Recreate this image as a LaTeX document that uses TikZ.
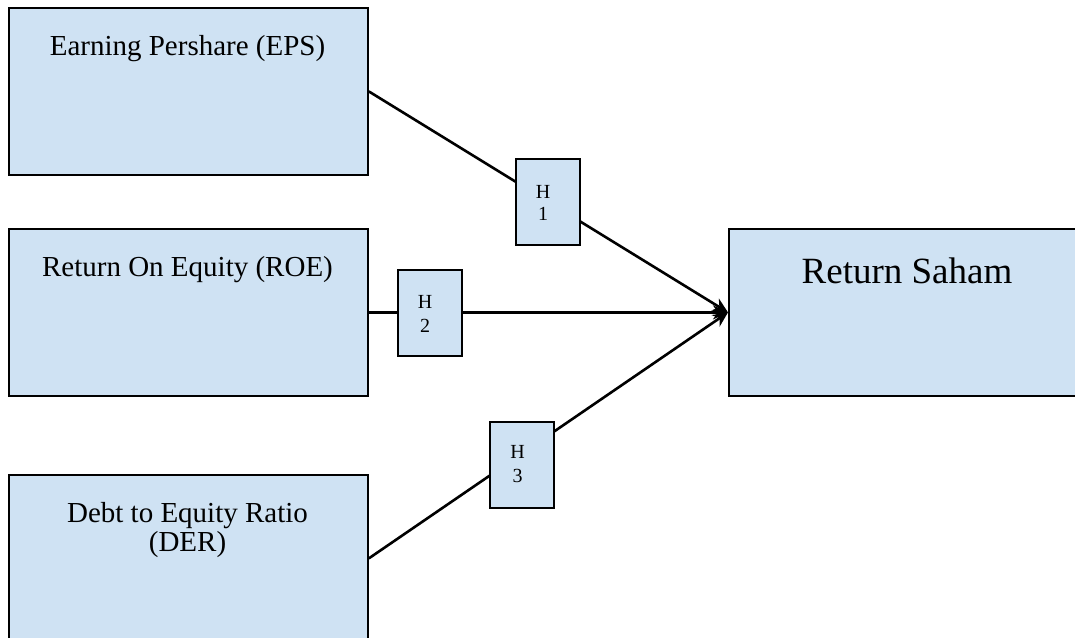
\documentclass[tikz,border=0pt]{standalone}
\usepackage{fontspec}
\setmainfont{Liberation Serif}
\usetikzlibrary{arrows.meta}
\definecolor{boxblue}{RGB}{207,226,243}
\begin{document}
\begin{tikzpicture}[x=1pt,y=-1pt,
  bigbox/.style={draw=black, line width=1.8pt, fill=boxblue, inner sep=0pt, anchor=north west, minimum width=359pt, minimum height=167pt},
  hbox/.style={draw=black, line width=1.8pt, fill=boxblue, inner sep=0pt, anchor=north west, minimum width=64pt, minimum height=86pt},
  bigtxt/.style={anchor=base, inner sep=0pt, font=\fontsize{29}{27}\selectfont},
  rstxt/.style={anchor=base, inner sep=0pt, font=\fontsize{37}{40}\selectfont},
  htxt/.style={anchor=base, inner sep=0pt, font=\fontsize{20}{24}\selectfont},
  conn/.style={line width=2.6pt, -{Stealth[length=15pt,width=14pt]}}]
\useasboundingbox (0,0) rectangle (1075,637);
\clip (0,0) rectangle (1075,637);
% main boxes
\node[bigbox] (eps) at (8,7) {};
\node[bigbox] (roe) at (8,228) {};
\node[bigbox] (der) at (8,474) {};
\node[bigbox, minimum width=380pt] (rs) at (728,228) {};
% texts
\node[bigtxt] (epst) at (187.5,55) {Earning Pershare (EPS)};
\node[bigtxt] (roet) at (187.5,276) {Return On Equity (ROE)};
\node[bigtxt] (dert1) at (187.5,522) {Debt to Equity Ratio};
\node[bigtxt] (dert2) at (187.5,551) {(DER)};
\node[rstxt] (rst) at (907,283) {Return Saham};
% connectors
\draw[conn] (eps.east) -- (rs.west);
\draw[conn] (roe.east) -- (rs.west);
\draw[conn] (der.east) -- (rs.west);
% hypothesis boxes
\node[hbox] (h1) at (515,158) {};
\node[hbox] (h2) at (397,269) {};
\node[hbox] (h3) at (489,421) {};
\node[htxt] (h1a) at (543,198) {H};
\node[htxt] (h1b) at (543,220) {1};
\node[htxt] (h2a) at (425,308) {H};
\node[htxt] (h2b) at (425,332) {2};
\node[htxt] (h3a) at (517.5,458) {H};
\node[htxt] (h3b) at (517.5,482) {3};
\end{tikzpicture}
\end{document}
